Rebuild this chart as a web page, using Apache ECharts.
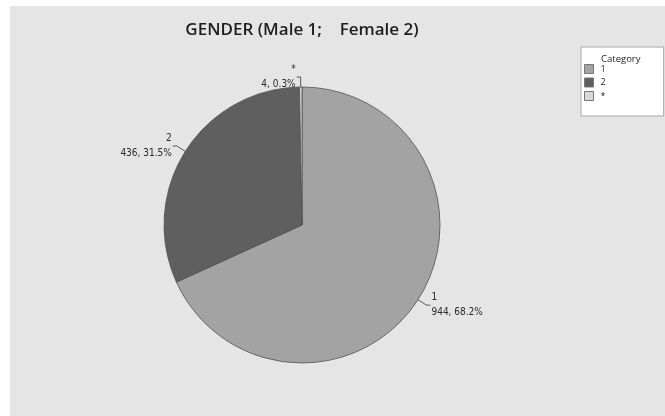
<!DOCTYPE html>
<html>
<head>
<meta charset="utf-8">
<style>
  html, body { margin: 0; padding: 0; background: #ffffff; }
  #chart { width: 665px; height: 416px; }
</style>
<script src="https://cdn.jsdelivr.net/npm/echarts@6/dist/echarts.min.js"></script>
</head>
<body>
<div id="chart"></div>
<script>
// Gender counts (1 = male, 2 = female, * = missing)
const categories = ['1', '2', '*'];
const counts = [944, 436, 4];
const sliceColors = ['#a3a3a3', '#5f5f5f', '#dadada'];

const chart = echarts.init(document.getElementById('chart'));

const pieData = categories.map((name, i) => ({
  name: name,
  value: counts[i],
  itemStyle: { color: sliceColors[i] }
}));

chart.setOption({
  backgroundColor: 'transparent',
  animation: false,
  graphic: [{
    type: 'rect',
    z: -10,
    silent: true,
    shape: { x: 10, y: 6, width: 660, height: 420 },
    style: { fill: '#e5e5e5' }
  }],
  title: [{
    text: 'GENDER (Male 1;    Female 2)',
    left: 297,
    top: 17,
    textAlign: 'center',
    textStyle: {
      fontFamily: 'Open Sans',
      fontSize: 17,
      fontWeight: 600,
      color: '#1e1e1e'
    }
  }, {
    text: 'Category',
    left: 601,
    top: 54,
    padding: 0,
    textStyle: {
      fontFamily: 'Open Sans',
      fontSize: 9.5,
      fontWeight: 'normal',
      color: '#222'
    }
  }],
  legend: {
    orient: 'vertical',
    left: 581,
    top: 47,
    backgroundColor: '#ffffff',
    borderColor: '#a8a8a8',
    borderWidth: 1,
    borderRadius: 0,
    padding: [17, 58, 15, 3],
    itemWidth: 9,
    itemHeight: 9,
    itemGap: 3.5,
    icon: 'rect',
    selectedMode: false,
    itemStyle: { borderColor: '#777', borderWidth: 1 },
    textStyle: { fontFamily: 'Open Sans', fontSize: 9, color: '#222', padding: [0, 0, 0, 2] },
    data: categories
  },
  series: [{
    type: 'pie',
    center: [302, 225],
    radius: 138,
    startAngle: 90,
    clockwise: true,
    percentPrecision: 1,
    avoidLabelOverlap: false,
    itemStyle: { borderColor: '#505050', borderWidth: 0.8 },
    emphasis: { disabled: true },
    label: {
      show: true,
      position: 'outside',
      formatter: '{b}\n{c}, {d}%',
      fontFamily: 'Liberation Sans Narrow, DejaVu Sans Condensed, Open Sans',
      fontSize: 10,
      lineHeight: 15,
      color: '#2a2a2a',
      distanceToLabelLine: 1
    },
    labelLine: {
      show: true,
      length: 10,
      length2: 4,
      lineStyle: { color: '#333', width: 0.8 }
    },
    data: pieData
  }]
});
</script>
</body>
</html>
